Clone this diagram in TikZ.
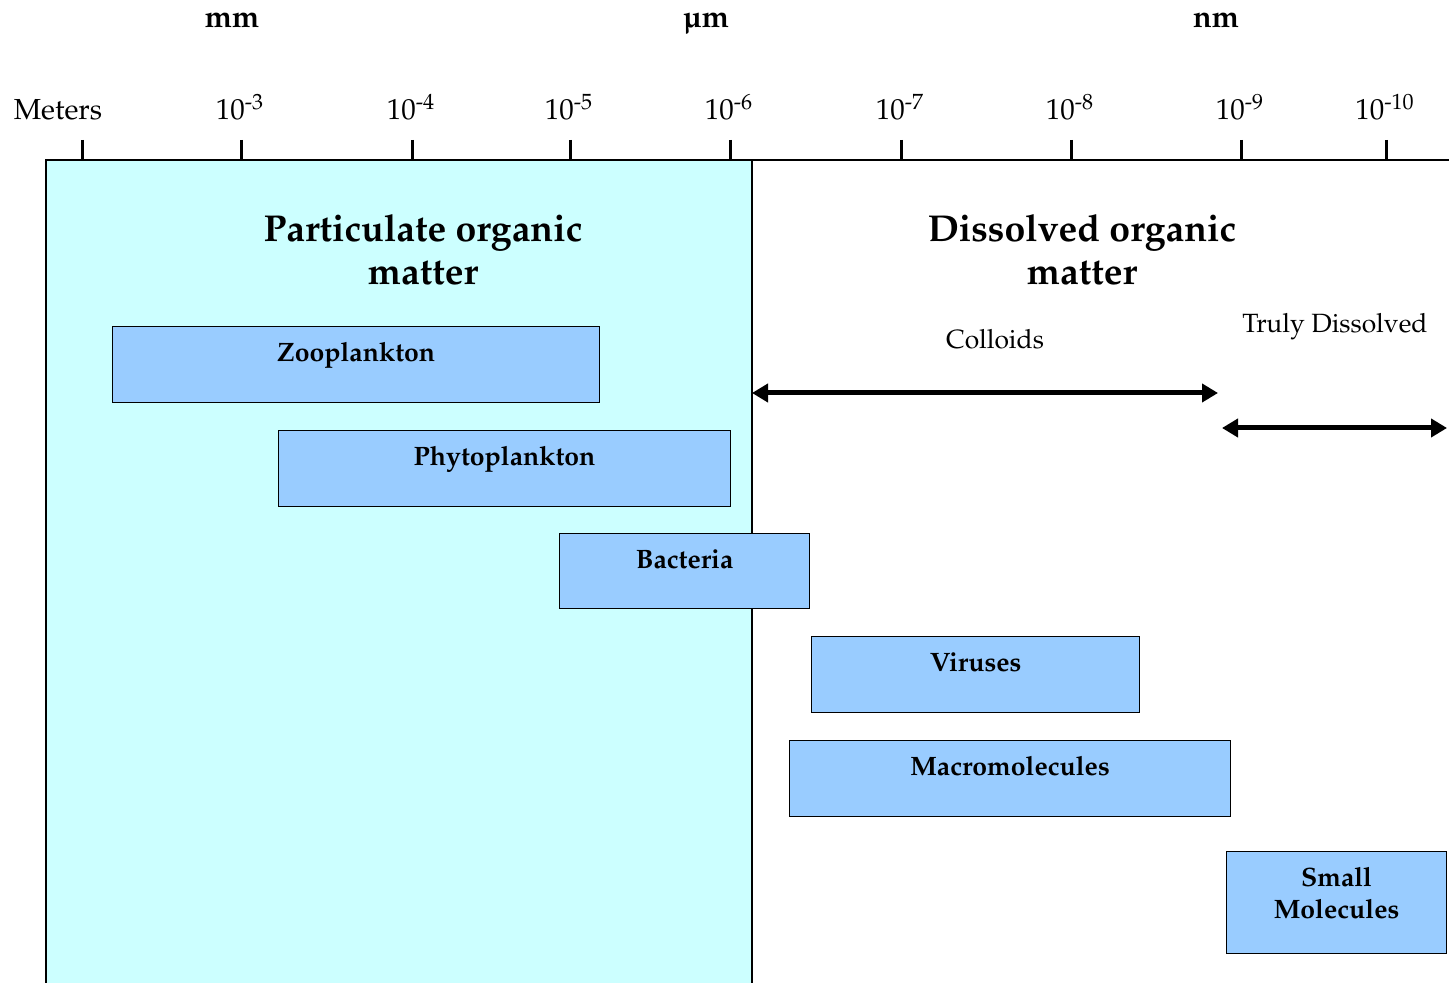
\documentclass[tikz,border=0pt]{standalone}
\usepackage[T1]{fontenc}
\usepackage{mathpazo}
\usepackage{textcomp}
\usetikzlibrary{arrows.meta, positioning}
\definecolor{pomcyan}{HTML}{CCFFFF}
\definecolor{orgblue}{HTML}{99CCFF}
\tikzset{
  orgbox/.style 2 args={draw=black, fill=orgblue, line width=0.6pt, anchor=north west,
               inner sep=0pt, align=center, minimum width=#1*0.5pt,
               text height=17.5pt, text depth=#2, font=\fontsize{13.3}{16}\selectfont\bfseries},
  heading/.style={anchor=base, align=center, inner sep=0pt, font=\fontsize{18.7}{21.5}\selectfont\bfseries},
  unitlab/.style={anchor=base, inner sep=0pt, font=\fontsize{15.3}{18}\selectfont\bfseries},
  scalelab/.style={anchor=base, inner sep=0pt, font=\fontsize{14.5}{17}\selectfont},
  rangelab/.style={anchor=base, inner sep=0pt, font=\fontsize{13.2}{16}\selectfont},
  tick/.style={line width=1.5pt},
  rangearr/.style={{Triangle[length=8pt,width=9pt]}-{Triangle[length=8pt,width=9pt]}, line width=2.5pt},
}

\begin{document}
\begin{tikzpicture}[x=0.5pt, y=-0.5pt]
  \useasboundingbox (0,0) rectangle (1449,983);

  %% Particulate region
  \fill[pomcyan] (46,160) rectangle (752,983);
  \draw[line width=1pt] (46,983) -- (46,160) -- (1449,160);
  \draw[line width=1pt] (752,160) -- (752,983);

  %% Units
  \node[unitlab] (mm) at (232,28) {mm};
  \node[unitlab] (um) at (706,28) {\textmu m};
  \node[unitlab] (nm) at (1216,28) {nm};

  %% Scale
  \node[scalelab] (meters) at (58,120) {Meters};
  \draw[tick] (82,140) -- (82,160);
  \foreach \x/\e in {241/3, 412/4, 570/5, 730/6, 901/7, 1071/8, 1241/9, 1386/10} {
    \draw[tick] (\x,140) -- (\x,160);
    \node[scalelab] (exp\e) at (\x-1,120) {10\textsuperscript{-\e}};
  }

  %% Headings
  \node[heading] (pom) at (423,285) {Particulate organic\\matter};
  \node[heading] (dom) at (1082,285) {Dissolved organic\\matter};

  %% Size ranges
  \node[rangelab] (colloids) at (995,349) {Colloids};
  \node[rangelab] (truly) at (1335,333) {Truly Dissolved};
  \coordinate (coll-l) at (752,393);
  \coordinate (coll-r) at (1218,393);
  \coordinate (true-l) at (1222,428);
  \coordinate (true-r) at (1447,428);
  \draw[rangearr] (coll-l) -- (coll-r);
  \draw[rangearr] (true-l) -- (true-r);

  %% Organisms and molecules
  \node[orgbox={487}{20.5pt}] (zoo) at (112,326) {Zooplankton};
  \node[orgbox={452}{20.5pt}] (phyto) at (278,430) {Phytoplankton};
  \node[orgbox={250}{20pt}] (bact) at (559,533) {Bacteria};
  \node[orgbox={328}{20.5pt}] (virus) at (811,636) {Viruses};
  \node[orgbox={441}{20.5pt}] (macro) at (789,740) {Macromolecules};
  \node[orgbox={220}{17.5pt}, text height=33.5pt] (small) at (1226,851) {Small\\Molecules};

\end{tikzpicture}
\end{document}
